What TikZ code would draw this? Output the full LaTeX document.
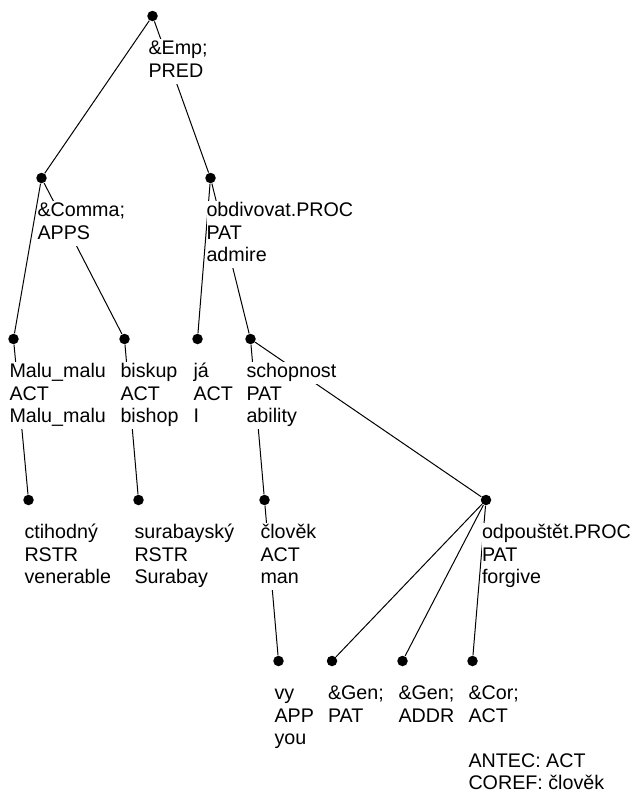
\documentclass[tikz,border=0pt]{standalone}
\usepackage{fontspec}
\setmainfont{Liberation Sans}

% one line of a label, on a white strip that hides the edges behind it
\newcommand{\wl}[1]{{\setlength{\fboxsep}{0pt}\colorbox{white}{\strut #1}}}

\begin{document}
\begin{tikzpicture}[x=1pt, y=-1pt, line width=1pt,
    dot/.style={circle, fill=black, inner sep=0pt, minimum size=10.5pt},
    lbl/.style={anchor=north west, xshift=-4.5pt, yshift=-22.25pt, inner sep=0pt,
        align=left, font=\fontsize{19.7}{22.5}\selectfont}]
    \useasboundingbox (0,0) rectangle (633,798);

    % Draw the dots of the tree
    \node[dot] (emp) at (152.5,16) {};
    \node[dot] (comma) at (41.5,178) {};
    \node[dot] (obdiv) at (210.5,178) {};
    \node[dot] (malu) at (13.5,339) {};
    \node[dot] (biskup) at (124.5,339) {};
    \node[dot] (ja) at (197.5,339) {};
    \node[dot] (schop) at (250.5,339) {};
    \node[dot] (ctih) at (28.5,500) {};
    \node[dot] (suraby) at (138.5,500) {};
    \node[dot] (clovek) at (264.5,500) {};
    \node[dot] (odpou) at (486,500) {};
    \node[dot] (vy) at (278.5,661) {};
    \node[dot] (genpat) at (332,661) {};
    \node[dot] (genaddr) at (402.5,661) {};
    \node[dot] (cor) at (472.5,661) {};

    % Draw the edges from parent to child
    \draw (emp) -- (comma);
    \draw (emp) -- (obdiv);
    \draw (comma) -- (malu);
    \draw (comma) -- (biskup);
    \draw (obdiv) -- (ja);
    \draw (obdiv) -- (schop);
    \draw (malu) -- (ctih);
    \draw (biskup) -- (suraby);
    \draw (schop) -- (clovek);
    \draw (schop) -- (odpou);
    \draw (clovek) -- (vy);
    \draw (odpou) -- (genpat);
    \draw (odpou) -- (genaddr);
    \draw (odpou) -- (cor);

    % Draw the labels under the dots
    \node[lbl] (emp-l) at (emp) {\wl{\&Emp;}\\\wl{PRED}};
    \node[lbl] (comma-l) at (comma) {\wl{\&Comma;}\\\wl{APPS}};
    \node[lbl] (obdiv-l) at (obdiv) {\wl{obdivovat.PROC}\\\wl{PAT}\\\wl{admire}};
    \node[lbl] (malu-l) at (malu) {\wl{Malu\_malu}\\\wl{ACT}\\\wl{Malu\_malu}};
    \node[lbl] (biskup-l) at (biskup) {\wl{biskup}\\\wl{ACT}\\\wl{bishop}};
    \node[lbl] (ja-l) at (ja) {\wl{já}\\\wl{ACT}\\\wl{I}};
    \node[lbl] (schop-l) at (schop) {\wl{schopnost}\\\wl{PAT}\\\wl{ability}};
    \node[lbl] (ctih-l) at (ctih) {\wl{ctihodný}\\\wl{RSTR}\\\wl{venerable}};
    \node[lbl] (suraby-l) at (suraby) {\wl{surabayský}\\\wl{RSTR}\\\wl{Surabay}};
    \node[lbl] (clovek-l) at (clovek) {\wl{člověk}\\\wl{ACT}\\\wl{man}};
    \node[lbl] (odpou-l) at (odpou) {\wl{odpouštět.PROC}\\\wl{PAT}\\\wl{forgive}};
    \node[lbl] (vy-l) at (vy) {\wl{vy}\\\wl{APP}\\\wl{you}};
    \node[lbl] (genpat-l) at (genpat) {\wl{\&Gen;}\\\wl{PAT}};
    \node[lbl] (genaddr-l) at (genaddr) {\wl{\&Gen;}\\\wl{ADDR}};
    \node[lbl] (cor-l) at (cor) {\wl{\&Cor;}\\\wl{ACT}\\\wl{}\\\wl{ANTEC: ACT}\\\wl{COREF: člověk}};
\end{tikzpicture}
\end{document}
